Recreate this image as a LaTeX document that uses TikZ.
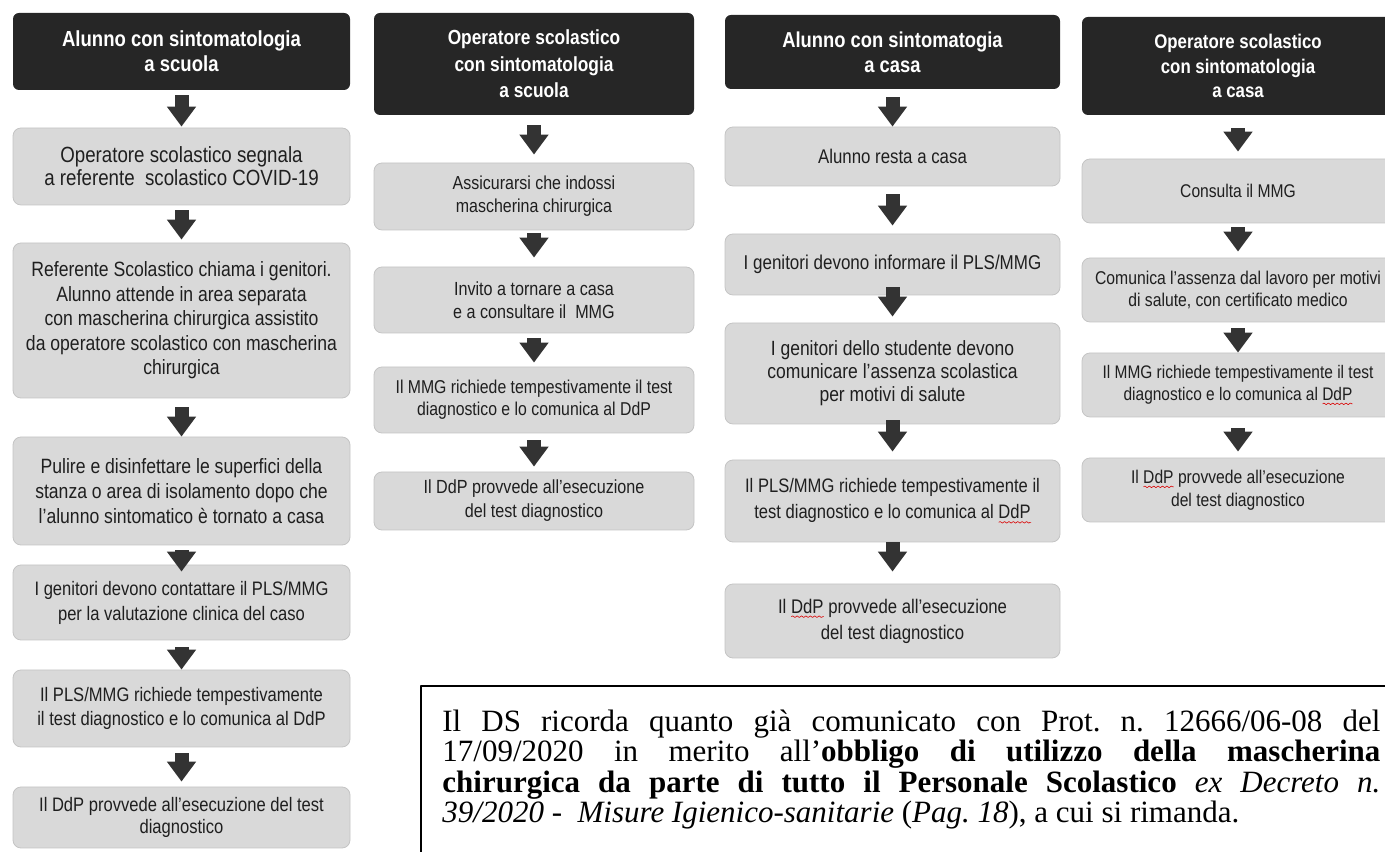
\documentclass[tikz,border=0pt]{standalone}
\usepackage{fontspec}
\setmainfont{Liberation Serif}
\newfontfamily\boxsans[FakeStretch=0.85]{Liberation Sans}
\newcommand{\boxfs}[2]{\boxsans\fontsize{#1bp}{#2bp}\selectfont}
\usetikzlibrary{arrows.meta,decorations.pathmorphing}
\newlength{\spellwd}
\newcommand{\spellmark}[1]{\settowidth{\spellwd}{#1}\rlap{\tikz[baseline=0pt]\draw[red!85!black,fill=none,sharp corners,line width=0.3bp,decorate,decoration={snake,amplitude=0.4bp,segment length=2.2bp}] (0pt,-1.8bp) -- (\spellwd,-1.8bp);}#1}
\definecolor{headfill}{HTML}{262626}
\definecolor{stepfill}{HTML}{D9D9D9}
\definecolor{stepedge}{HTML}{C4C4C4}
\definecolor{flowgray}{HTML}{333333}
\definecolor{steptext}{HTML}{1F1F1F}
\begin{document}
\begin{tikzpicture}[>=latex,line join=bevel,
  head/.style={fill=headfill,draw=none,rounded corners=3bp,text=white,align=center,inner sep=0pt},
  stepbox/.style={fill=stepfill,draw=stepedge,line width=0.4bp,rounded corners=4bp,text=steptext,align=center,inner sep=0pt},
  col1/.style={minimum width=168.5bp},
  col2/.style={minimum width=160bp},
  col3/.style={minimum width=167.5bp},
  col4/.style={minimum width=156bp},
  flow/.style={draw=flowgray,line width=7bp,-{Triangle[width=14bp,length=10bp]}},
  noteline/.style={draw=black,line width=1bp},
]
\useasboundingbox (0,0) rectangle (692.5bp,426bp);
%% alunno a scuola
\node (scuola_0) at (90.75bp,400.25bp) [head,col1,minimum height=38.5bp,font=\boxfs{10.9}{12.5}\bfseries] {Alunno con sintomatologia\\a scuola};
  \node (scuola_1) at (90.75bp,342.75bp) [stepbox,col1,minimum height=38.5bp,font=\boxfs{11}{11.5}] {Operatore scolastico segnala\\a referente\ \ scolastico COVID-19};
  \node (scuola_2) at (90.75bp,265.75bp) [stepbox,col1,minimum height=77.5bp,font=\boxfs{10.35}{12.25}] {Referente Scolastico chiama i genitori.\\Alunno attende in area separata\\con mascherina chirurgica assistito\\da operatore scolastico con mascherina\\chirurgica};
  \node (scuola_3) at (90.75bp,180.5bp) [stepbox,col1,minimum height=54bp,font=\boxfs{10.35}{12.5}] {Pulire e disinfettare le superfici della\\stanza o area di isolamento dopo che\\l’alunno sintomatico è tornato a casa};
  \node (scuola_4) at (90.75bp,124.75bp) [stepbox,col1,minimum height=37.5bp,font=\boxfs{9.75}{12.5}] {I genitori devono contattare il PLS/MMG\\per la valutazione clinica\ del caso};
  \node (scuola_5) at (90.75bp,71.75bp) [stepbox,col1,minimum height=38.5bp,font=\boxfs{9.75}{12}] {Il PLS/MMG richiede tempestivamente\\il test diagnostico e lo comunica al DdP};
  \node (scuola_6) at (90.75bp,17.25bp) [stepbox,col1,minimum height=30.5bp,font=\boxfs{9.75}{11}] {Il DdP provvede all’esecuzione del test\\diagnostico};
  \draw [flow,shorten <=2.5bp,shorten >=0.5bp] (scuola_0) -- (scuola_1);
  \draw [flow,shorten <=2.5bp,shorten >=1.5bp] (scuola_1) -- (scuola_2);
  \draw [flow,shorten <=4.5bp,shorten >=0bp] (scuola_2) -- (scuola_3);
  \draw [flow,shorten <=2.5bp,shorten >=-3.5bp] (scuola_3) -- (scuola_4);
  \draw [flow,shorten <=3.5bp,shorten >=0bp] (scuola_4) -- (scuola_5);
  \draw [flow,shorten <=3bp,shorten >=2.5bp] (scuola_5) -- (scuola_6);
%% operatore a scuola
\node (oscuola_0) at (267bp,394bp) [head,col2,minimum height=51bp,font=\boxfs{10.2}{13.25}\bfseries] {Operatore scolastico\\con sintomatologia\\a scuola};
  \node (oscuola_1) at (267bp,327.75bp) [stepbox,col2,minimum height=33.5bp,font=\boxfs{9.4}{11.5}] {Assicurarsi che indossi\\mascherina chirurgica};
  \node (oscuola_2) at (267bp,276bp) [stepbox,col2,minimum height=33bp,font=\boxfs{9.5}{11.5}] {Invito a tornare a casa\\e a consultare il\ \ MMG};
  \node (oscuola_3) at (267bp,226bp) [stepbox,col2,minimum height=33bp,font=\boxfs{9.3}{11}] {Il MMG richiede tempestivamente il test\\diagnostico e lo comunica al DdP};
  \node (oscuola_4) at (267bp,175.5bp) [stepbox,col2,minimum height=29bp,font=\boxfs{9.5}{12}] {Il DdP provvede all’esecuzione\\del test diagnostico};
  \draw [flow,shorten <=5bp,shorten >=4bp] (oscuola_0) -- (oscuola_1);
  \draw [flow,shorten <=1.5bp,shorten >=4.5bp] (oscuola_1) -- (oscuola_2);
  \draw [flow,shorten <=2.5bp,shorten >=2bp] (oscuola_2) -- (oscuola_3);
  \draw [flow,shorten <=3.5bp,shorten >=2.5bp] (oscuola_3) -- (oscuola_4);
%% alunno a casa
\node (acasa_0) at (446.25bp,400bp) [head,col3,minimum height=37bp,font=\boxfs{10.8}{12.5}\bfseries] {Alunno con sintomatogia\\a casa};
  \node (acasa_1) at (446.25bp,347.75bp) [stepbox,col3,minimum height=29.5bp,font=\boxfs{9.9}{12}] {Alunno resta a casa};
  \node (acasa_2) at (446.25bp,293.75bp) [stepbox,col3,minimum height=30.5bp,font=\boxfs{10}{12}] {I genitori devono informare il PLS/MMG};
  \node (acasa_3) at (446.25bp,239.25bp) [stepbox,col3,minimum height=50.5bp,font=\boxfs{10.3}{11.5}] {I genitori dello studente devono\\comunicare l’assenza scolastica\\per motivi di salute};
  \node (acasa_4) at (446.25bp,175.5bp) [stepbox,col3,minimum height=41bp,font=\boxfs{9.75}{13}] {Il PLS/MMG richiede tempestivamente il\\test diagnostico e lo comunica al \spellmark{DdP}};
  \node (acasa_5) at (446.25bp,115.5bp) [stepbox,col3,minimum height=37bp,font=\boxfs{9.85}{13}] {Il \spellmark{DdP} provvede all’esecuzione\\del test diagnostico};
  \draw [flow,shorten <=4bp,shorten >=0bp] (acasa_0) -- (acasa_1);
  \draw [flow,shorten <=4bp,shorten >=4bp] (acasa_1) -- (acasa_2);
  \draw [flow,shorten <=-4bp,shorten >=3bp] (acasa_2) -- (acasa_3);
  \draw [flow,shorten <=-2bp,shorten >=4bp] (acasa_3) -- (acasa_4);
  \draw [flow,shorten <=0bp,shorten >=6bp] (acasa_4) -- (acasa_5);
%% operatore a casa
\node (ocasa_0) at (619bp,393bp) [head,col4,minimum height=49bp,font=\boxfs{9.9}{12.25}\bfseries] {Operatore scolastico\\con sintomatologia\\a casa};
  \node (ocasa_1) at (619bp,330.5bp) [stepbox,col4,minimum height=32bp,font=\boxfs{9.2}{11}] {Consulta il MMG};
  \node (ocasa_2) at (619bp,281bp) [stepbox,col4,minimum height=32bp,font=\boxfs{9.25}{10.75}] {Comunica l’assenza dal lavoro per motivi\\di salute, con certificato medico};
  \node (ocasa_3) at (619bp,233.5bp) [stepbox,col4,minimum height=32bp,font=\boxfs{9.1}{11}] {Il MMG richiede tempestivamente il test\\diagnostico e lo comunica al \spellmark{DdP}};
  \node (ocasa_4) at (619bp,181bp) [stepbox,col4,minimum height=32bp,font=\boxfs{9.2}{11.5}] {Il \spellmark{DdP} provvede all’esecuzione\\del test diagnostico};
  \draw [flow,shorten <=6.5bp,shorten >=3.5bp] (ocasa_0) -- (ocasa_1);
  \draw [flow,shorten <=2bp,shorten >=3bp] (ocasa_1) -- (ocasa_2);
  \draw [flow,shorten <=3bp,shorten >=0bp] (ocasa_2) -- (ocasa_3);
  \draw [flow,shorten <=5.5bp,shorten >=3bp] (ocasa_3) -- (ocasa_4);
%% nota del DS
\node (note) at (210.5bp,83bp) [anchor=north west,text width=469bp,align=justify,inner xsep=10.5bp,inner ysep=11.8bp,font=\fontsize{15.5bp}{14bp}\selectfont] {\frenchspacing\hbadness=10000 Il DS ricorda quanto già comunicato con Prot. n. 12666/06-08 del\linebreak 17/09/2020 in merito all’\textbf{obbligo di utilizzo della mascherina\linebreak chirurgica da parte di tutto il Personale Scolastico} \textit{ex Decreto n.\linebreak 39/2020 -\ \ Misure Igienico-sanitarie} (\textit{Pag. 18}), a cui si rimanda.\par};
  \draw [noteline] ([yshift=-10bp]note.south west) |- ([xshift=10bp]note.north east);
%
\end{tikzpicture}
\end{document}
